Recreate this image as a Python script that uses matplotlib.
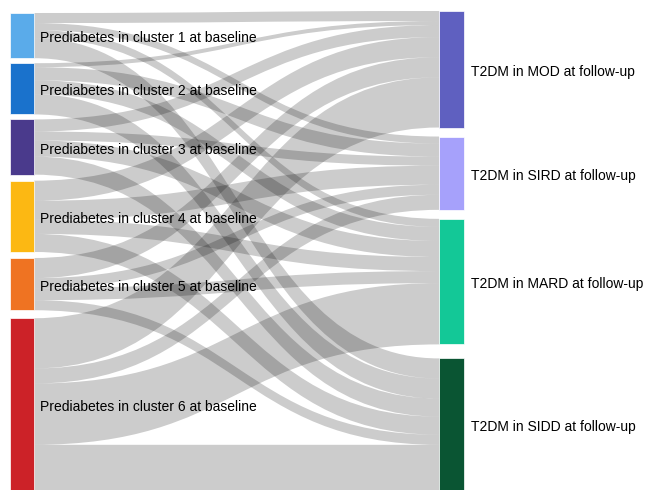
import matplotlib
matplotlib.use("Agg")
import matplotlib.pyplot as plt
from matplotlib.path import Path
from matplotlib.patches import PathPatch, Rectangle

plt.rcParams['font.family'] = ['Liberation Sans', 'DejaVu Sans']

# Baseline prediabetes clusters (sources) and follow-up T2DM subgroups (targets)
sources = ["Prediabetes in cluster 1 at baseline",
           "Prediabetes in cluster 2 at baseline",
           "Prediabetes in cluster 3 at baseline",
           "Prediabetes in cluster 4 at baseline",
           "Prediabetes in cluster 5 at baseline",
           "Prediabetes in cluster 6 at baseline"]
targets = ["T2DM in MOD at follow-up",
           "T2DM in SIRD at follow-up",
           "T2DM in MARD at follow-up",
           "T2DM in SIDD at follow-up"]

# Flow from each cluster to each subgroup (rows: clusters, cols: MOD, SIRD, MARD, SIDD)
flow_c1 = [10, 7, 8, 20]
flow_c2 = [4, 13, 14, 20]
flow_c3 = [12, 9, 16, 18]
flow_c4 = [20, 19, 14, 18]
flow_c5 = [20, 10, 12, 10]
flow_c6 = [50, 15, 61, 45]
flows = [flow_c1, flow_c2, flow_c3, flow_c4, flow_c5, flow_c6]

source_colors = ["#5aabea", "#1a72cc", "#4a3a8c", "#fcb813", "#ef7322", "#cc2228"]
target_colors = ["#5f60c0", "#a6a1fb", "#13c897", "#0a5533"]

# Layout (pixel space)
W, H = 645, 490
left_x0, left_x1 = 10, 34
right_x0, right_x1 = 439, 464
left_top, right_top = 13, 11
left_gaps = [5, 5, 6, 6, 8]
right_gaps = [9, 9, 14]
label_dy = 2.5

src_tot = [sum(r) for r in flows]
tgt_tot = [sum(flows[i][j] for i in range(len(flows))) for j in range(len(targets))]
scale = (H - left_top - sum(left_gaps)) / sum(src_tot)

def stack(totals, top, gaps):
    pos, y = [], top
    for k, t in enumerate(totals):
        pos.append(y)
        y += t * scale + (gaps[k] if k < len(gaps) else 0)
    return pos

src_y = stack(src_tot, left_top, left_gaps)
tgt_y = stack(tgt_tot, right_top, right_gaps)

fig = plt.figure(figsize=(W / 100, H / 100), dpi=100)
ax = fig.add_axes([0, 0, 1, 1])
ax.set_xlim(0, W)
ax.set_ylim(H, 0)
ax.axis("off")

# Offsets of each link within its source (ordered by target) and target (ordered by source)
src_off = [list() for _ in sources]
for i in range(len(sources)):
    y = src_y[i]
    for j in range(len(targets)):
        src_off[i].append(y)
        y += flows[i][j] * scale
tgt_off = [[0] * len(targets) for _ in sources]
for j in range(len(targets)):
    y = tgt_y[j]
    for i in range(len(sources)):
        tgt_off[i][j] = y
        y += flows[i][j] * scale

xm = (left_x1 + right_x0) / 2
for i in range(len(sources)):
    for j in range(len(targets)):
        v = flows[i][j]
        if v <= 0:
            continue
        t = v * scale
        ys, yt = src_off[i][j], tgt_off[i][j]
        verts = [(left_x1, ys), (xm, ys), (xm, yt), (right_x0, yt),
                 (right_x0, yt + t),
                 (xm, yt + t), (xm, ys + t), (left_x1, ys + t),
                 (left_x1, ys)]
        codes = [Path.MOVETO, Path.CURVE4, Path.CURVE4, Path.CURVE4,
                 Path.LINETO,
                 Path.CURVE4, Path.CURVE4, Path.CURVE4,
                 Path.CLOSEPOLY]
        ax.add_patch(PathPatch(Path(verts, codes), facecolor=(0, 0, 0, 0.2),
                               edgecolor="none", zorder=1))

for i, name in enumerate(sources):
    h = src_tot[i] * scale
    ax.add_patch(Rectangle((left_x0, src_y[i]), left_x1 - left_x0, h,
                           facecolor=source_colors[i], edgecolor="white",
                           linewidth=0.5, zorder=2))
    ax.text(left_x1 + 6, src_y[i] + h / 2 + label_dy, name, ha="left", va="center",
            fontsize=10, color="black", zorder=3)

for j, name in enumerate(targets):
    h = tgt_tot[j] * scale
    ax.add_patch(Rectangle((right_x0, tgt_y[j]), right_x1 - right_x0, h,
                           facecolor=target_colors[j], edgecolor="white",
                           linewidth=0.5, zorder=2))
    ax.text(right_x1 + 7, tgt_y[j] + h / 2 + label_dy, name, ha="left", va="center",
            fontsize=10, color="black", zorder=3)

fig.savefig("out.png", dpi=100)
